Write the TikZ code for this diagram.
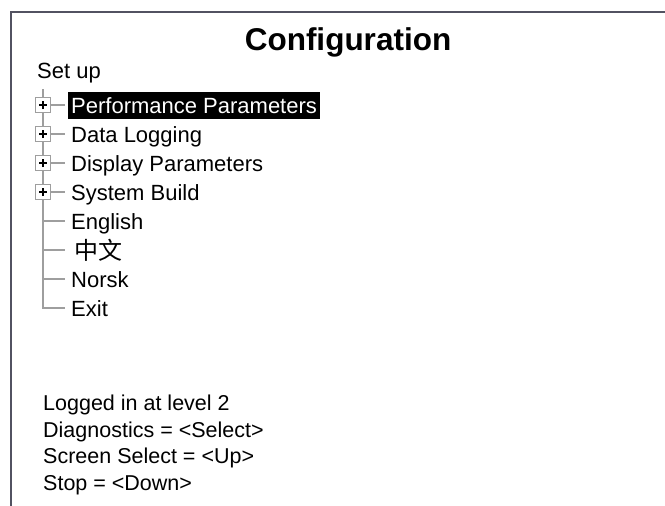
\documentclass[tikz,border=0pt]{standalone}
\usepackage{fontspec}
\setmainfont{Liberation Sans}
\newfontfamily\cjkfont{Noto Sans CJK SC}
\usepackage{xcolor}
\definecolor{treegray}{rgb}{0.62,0.62,0.62}
\definecolor{framegray}{rgb}{0.32,0.32,0.38}

\begin{document}
\begin{tikzpicture}[x=1pt, y=-1pt,
  menulabel/.style={anchor=base west, inner xsep=3pt, inner ysep=0pt, font=\fontsize{22}{26}\selectfont},
  highlighted/.style={fill=black, text=white, text height=16pt, text depth=1pt, inner ysep=5pt},
  infoline/.style={anchor=base west, inner sep=0pt, font=\fontsize{21.5}{26}\selectfont},
  branch/.style={treegray, line width=1.6pt},
  plusbox/.style={draw=treegray, fill=white, line width=1.5pt, minimum size=15pt, inner sep=0pt,
    path picture={\draw[black, line width=2pt]
      ([xshift=-4pt]path picture bounding box.center) -- ([xshift=4pt]path picture bounding box.center)
      ([yshift=-4pt]path picture bounding box.center) -- ([yshift=4pt]path picture bounding box.center);}}]
\useasboundingbox (0,0) rectangle (665,506);

% window frame
\draw[framegray, line width=2pt] (665,11.5) -- (11,11.5) -- (11,506);

\node[anchor=base, inner sep=0pt, font=\fontsize{31.5}{36}\selectfont\bfseries] (title) at (348,50) {Configuration};
\node[anchor=base west, inner sep=0pt, font=\fontsize{22}{26}\selectfont] (setup) at (37,78) {Set up};

% tree rows
\coordinate (trunktop) at (43,89);
\coordinate (row1) at (43,105);
\coordinate (row2) at (43,134);
\coordinate (row3) at (43,163);
\coordinate (row4) at (43,192);
\coordinate (row5) at (43,221);
\coordinate (row6) at (43,250);
\coordinate (row7) at (43,279);
\coordinate (row8) at (43,308);

\node[menulabel, highlighted] (perf) at (68,113) {Performance Parameters};
\node[menulabel] (logging) at (68,142) {Data Logging};
\node[menulabel] (display) at (68,171) {Display Parameters};
\node[menulabel] (build) at (68,200) {System Build};
\node[menulabel] (english) at (68,229) {English};
\node[menulabel, font=\fontsize{24}{28}\selectfont\cjkfont] (chinese) at (71,259) {中文};
\node[menulabel] (norsk) at (68,287) {Norsk};
\node[menulabel] (exit) at (68,316) {Exit};

\draw[branch] (trunktop) -- (row8) -- ([xshift=-3pt]row8 -| exit.west);
\draw[branch] (row1) -- ([xshift=-3pt]row1 -| perf.west);
\draw[branch] (row2) -- ([xshift=-3pt]row2 -| logging.west);
\draw[branch] (row3) -- ([xshift=-3pt]row3 -| display.west);
\draw[branch] (row4) -- ([xshift=-3pt]row4 -| build.west);
\draw[branch] (row5) -- ([xshift=-3pt]row5 -| english.west);
\draw[branch] (row6) -- ([xshift=-3pt]row6 -| english.west);
\draw[branch] (row7) -- ([xshift=-3pt]row7 -| norsk.west);

\node[plusbox] (pbox1) at (row1) {};
\node[plusbox] (pbox2) at (row2) {};
\node[plusbox] (pbox3) at (row3) {};
\node[plusbox] (pbox4) at (row4) {};

% status lines
\node[infoline] (login) at (43,410) {Logged in at level 2};
\node[infoline] (diag) at (43,437) {Diagnostics = <Select>};
\node[infoline] (screensel) at (43,463) {Screen Select = <Up>};
\node[infoline] (stopkey) at (43,490) {Stop = <Down>};
\end{tikzpicture}
\end{document}
